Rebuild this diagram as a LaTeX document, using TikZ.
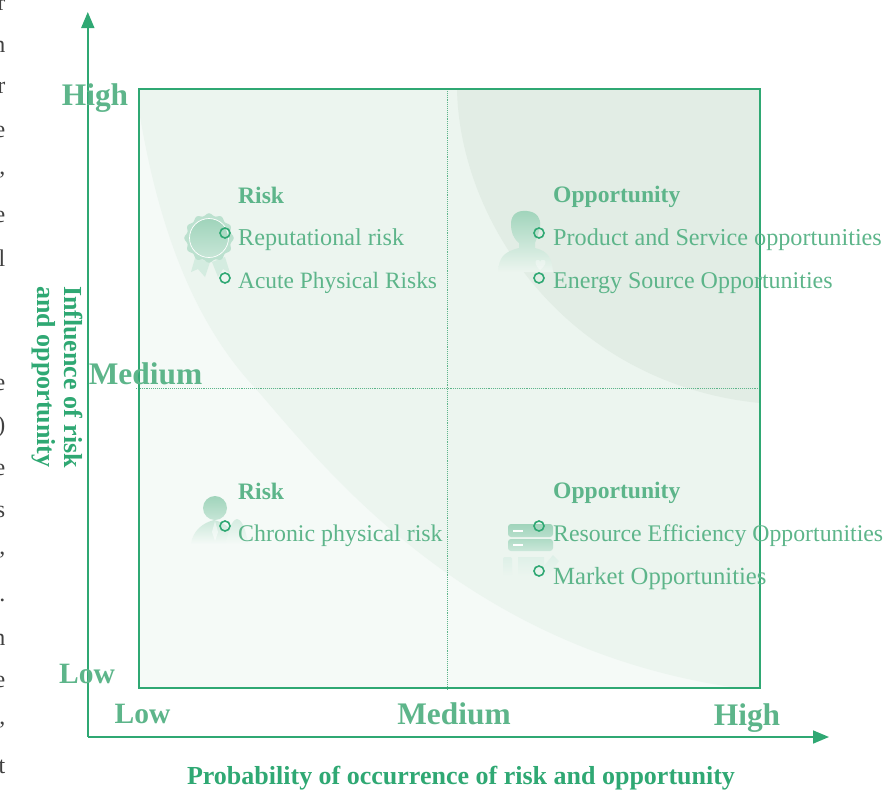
\documentclass[tikz,border=0pt]{standalone}
\usepackage{fontspec}
\setmainfont{Liberation Serif}
\definecolor{axisgreen}{HTML}{2FA873}
\definecolor{labelgreen}{HTML}{5DB58A}
\definecolor{zonelight}{HTML}{F5FAF7}
\definecolor{zonemid}{HTML}{ECF5EF}
\definecolor{zonedark}{HTML}{E2EDE5}
\definecolor{iconfill}{HTML}{A0D4BB}
\usetikzlibrary{arrows.meta}
\tikzset{
    levellabel/.style={text=labelgreen, font=\fontsize{#1}{#1}\selectfont\bfseries, inner sep=0pt},
    levellabel/.default=31.4,
    headlabel/.style={text=labelgreen, font=\fontsize{23.6}{23.6}\selectfont\bfseries, anchor=west, inner sep=0pt},
    itemlabel/.style={text=labelgreen, font=\fontsize{#1}{#1}\selectfont, anchor=west, inner sep=0pt},
    itemlabel/.default=24.2,
    axistitle/.style={text=axisgreen, font=\fontsize{26}{27}\selectfont\bfseries, inner sep=0pt},
    cutletter/.style={text=black!75, font=\fontsize{24}{24}\selectfont, inner sep=0pt, anchor=east},
    markerdot/.style={circle, draw=axisgreen, line width=1.6pt, fill=none, minimum size=10pt, inner sep=0pt}
}
\begin{document}
\begin{tikzpicture}[
    x=1pt, y=-1pt,
    >=Stealth
]
    \useasboundingbox (0,0) rectangle (884,790);

    % Cut off letters of the text column
    \node[cutletter] (cutA) at (5.5,5) {r};
    \node[cutletter] (cutB) at (5.5,47) {n};
    \node[cutletter] (cutC) at (5.5,88) {r};
    \node[cutletter] (cutD) at (5.5,132) {e};
    \node[cutletter] (cutE) at (5.5,175) {,};
    \node[cutletter] (cutF) at (5.5,217) {e};
    \node[cutletter] (cutG) at (5.5,258) {l};
    \node[cutletter] (cutH) at (5.5,385) {e};
    \node[cutletter] (cutI) at (5.5,427) {)};
    \node[cutletter] (cutJ) at (5.5,470) {e};
    \node[cutletter] (cutK) at (5.5,512) {s};
    \node[cutletter] (cutL) at (5.5,555) {,};
    \node[cutletter] (cutM) at (5.5,600) {.};
    \node[cutletter] (cutN) at (5.5,640) {n};
    \node[cutletter] (cutO) at (5.5,682) {e};
    \node[cutletter] (cutP) at (5.5,725) {,};
    \node[cutletter] (cutQ) at (5.5,767) {t};

    % Zones
    \fill[zonelight] (139,89) rectangle (760,688);
    \fill[zonemid] (139,89) -- (139,110) .. controls (160,240) and (200,330) .. (257,390) .. controls (330,475) and (470,650) .. (738,688) -- (760,688) -- (760,89) -- cycle;
    \fill[zonedark] (457,89) .. controls (460,230) and (575,385) .. (760,403) -- (760,89) -- cycle;

    % Grid lines
    \draw[labelgreen, line width=0.9pt, densely dotted] (447,89) -- (447,690);
    \draw[labelgreen, line width=0.9pt, densely dotted] (136,388) -- (760,388);
    \draw[axisgreen, line width=1.5pt] (139,89) rectangle (760,688);

    % Axes
    \draw[axisgreen, line width=1.7pt, -{Stealth[length=16pt, width=13pt, inset=0pt]}] (87.8,737) -- (87.8,12);
    \draw[axisgreen, line width=1.7pt, -{Stealth[length=16pt, width=13pt, inset=0pt]}] (87.8,737) -- (829,737);

    % Badge
    \fill[iconfill!45] (195,258) -- (191,272) -- (198,269) -- (205,277) -- (210,262) -- cycle;
    \fill[iconfill!45] (212,262) -- (218,277) -- (223,269) -- (230,273) -- (225,257) -- cycle;
    \fill[iconfill!70] plot[domain=0:360, samples=121, smooth] ({209+(23.5+1.2*cos(12*\x))*cos(\x)}, {238+(23.5+1.2*cos(12*\x))*sin(\x)});
    \shade[top color=iconfill, bottom color=iconfill!60] (209,238) circle (19);
    \draw[white, line width=0.7pt] (209,238) circle (19.5);

    % Person, top right
    \shade[top color=iconfill, middle color=iconfill!85, bottom color=zonemid] (498,272) .. controls (499,258) and (503,252) .. (519,248) -- (519,243) .. controls (513,238) and (511,232) .. (511,224) .. controls (511,214) and (518,210) .. (527,211) .. controls (537,212) and (541,218) .. (540,226) .. controls (539,233) and (537,238) .. (535,243) -- (535,248) .. controls (548,251) and (552,258) .. (553,272) -- cycle;
    \fill[white, opacity=0.35] (540,270) .. controls (535,265) and (534,261) .. (537,260) .. controls (539,259) and (540,261) .. (540,262) .. controls (540,261) and (542,259) .. (544,260) .. controls (547,261) and (546,265) .. (540,270) -- cycle;

    % Person, bottom left
    \shade[top color=iconfill, bottom color=iconfill!60] (215,508) circle (12);
    \shade[top color=iconfill!55, bottom color=zonelight] (191,544) .. controls (193,530) and (203,523) .. (214,520) .. controls (226,523) and (234,530) .. (238,544) -- cycle;
    \shade[top color=iconfill!45, bottom color=zonelight] (226,544) .. controls (228,530) and (232,520) .. (237,519) .. controls (243,520) and (246,532) .. (248,544) -- cycle;
    \fill[white, opacity=0.5] (215,521) -- (218,532) -- (215,541) -- (212,532) -- cycle;

    % Server
    \shade[top color=iconfill, bottom color=iconfill!75, rounded corners=3pt] (508,524) rectangle (553,537);
    \shade[top color=iconfill!85, bottom color=iconfill!55, rounded corners=3pt] (508,539) rectangle (553,551);
    \draw[white, line width=1.2pt] (513,531) -- (523,531);
    \draw[white, line width=1.2pt] (513,545) -- (523,545);
    \shade[top color=iconfill!35, bottom color=zonemid, rounded corners=2pt] (503,557) rectangle (512,576);
    \shade[top color=iconfill!35, bottom color=zonemid] (518,557) -- (544,557) -- (544,566) -- (553,555) -- (559,561) -- (548,576) -- (518,576) -- cycle;

    % Markers
    \node[markerdot] (dotRepute) at (225,233) {};
    \node[markerdot] (dotAcute) at (225,278) {};
    \node[markerdot] (dotProduct) at (539,233) {};
    \node[markerdot] (dotEnergy) at (539,278) {};
    \node[markerdot] (dotChronic) at (225,526) {};
    \node[markerdot] (dotResource) at (539,526) {};
    \node[markerdot] (dotMarket) at (539,571) {};

    % Quadrant labels
    \node[headlabel] (headTL) at (238,195) {Risk};
    \node[itemlabel] (itemRepute) at (238,240) {Reputational risk};
    \node[itemlabel=23.4] (itemAcute) at (238,283) {Acute Physical Risks};
    \node[headlabel] (headTR) at (553,197) {Opportunity};
    \node[itemlabel] (itemProduct) at (553,240) {Product and Service opportunities};
    \node[itemlabel=24] (itemEnergy) at (553,283) {Energy Source Opportunities};
    \node[headlabel] (headBL) at (238,491) {Risk};
    \node[itemlabel=23.9] (itemChronic) at (238,536) {Chronic physical risk};
    \node[headlabel] (headBR) at (553,493) {Opportunity};
    \node[itemlabel=23.8] (itemResource) at (553,536) {Resource Efficiency Opportunities};
    \node[itemlabel=24.7] (itemMarket) at (553,579) {Market Opportunities};

    % Axis levels
    \node[levellabel] (yHigh) at (95,98) {High};
    \node[levellabel] (yMedium) at (145.5,374) {Medium};
    \node[levellabel=29.5] (yLow) at (87,674) {Low};
    \node[levellabel=29.5] (xLow) at (142.5,714) {Low};
    \node[levellabel] (xMedium) at (454,714) {Medium};
    \node[levellabel] (xHigh) at (747,718) {High};

    % Axis titles
    \node[axistitle, rotate=-90, align=center] (yTitle) at (57,377) {Influence of risk\\and opportunity};
    \node[axistitle] (xTitle) at (461,778) {Probability of occurrence of risk and opportunity};
\end{tikzpicture}
\end{document}
